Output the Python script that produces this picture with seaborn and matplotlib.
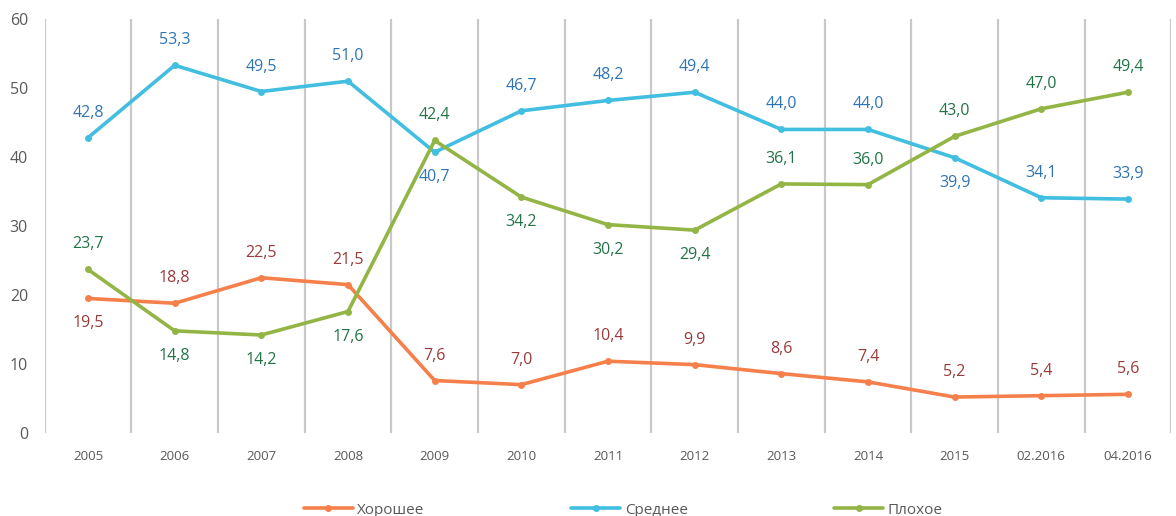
import pandas as pd
import numpy as np
import seaborn as sns
import matplotlib.pyplot as plt

periods = ['2005', '2006', '2007', '2008', '2009', '2010', '2011', '2012',
           '2013', '2014', '2015', '02.2016', '04.2016']
good = [19.5, 18.8, 22.5, 21.5, 7.6, 7.0, 10.4, 9.9, 8.6, 7.4, 5.2, 5.4, 5.6]
medium = [42.8, 53.3, 49.5, 51.0, 40.7, 46.7, 48.2, 49.4, 44.0, 44.0, 39.9, 34.1, 33.9]
bad = [23.7, 14.8, 14.2, 17.6, 42.4, 34.2, 30.2, 29.4, 36.1, 36.0, 43.0, 47.0, 49.4]
series_names = ['Хорошее', 'Среднее', 'Плохое']

# label placement: 1 = above the point, -1 = below
good_pos = [-1, 1, 1, 1, 1, 1, 1, 1, 1, 1, 1, 1, 1]
medium_pos = [1, 1, 1, 1, -1, 1, 1, 1, 1, 1, -1, 1, 1]
bad_pos = [1, -1, -1, -1, 1, -1, -1, -1, 1, 1, 1, 1, 1]

line_colors = ['#F5804B', '#41BEE0', '#93B545']
label_colors = ['#9A3A3A', '#2F75B5', '#227447']

df = pd.DataFrame({
    'x': list(range(len(periods))) * 3,
    'value': good + medium + bad,
    'series': np.repeat(series_names, len(periods)),
})

sns.set_style('white')
plt.rcParams['font.family'] = ['Open Sans', 'DejaVu Sans']

fig = plt.figure(figsize=(11.76, 5.16), dpi=100)
ax = fig.add_axes([0.038, 0.161, 0.958, 0.802])

for k in range(len(periods) + 1):
    ax.axvline(k - 0.5, color='#C9C9C9', lw=1.6, zorder=0)

sns.lineplot(data=df, x='x', y='value', hue='series', hue_order=series_names,
             palette=line_colors, marker='o', markersize=5, markeredgewidth=0,
             linewidth=2.6, ax=ax, legend=False)

for vals, pos, col in zip([good, medium, bad], [good_pos, medium_pos, bad_pos], label_colors):
    for i, (v, p) in enumerate(zip(vals, pos)):
        ax.annotate(f'{v:.1f}'.replace('.', ','), (i, v), xytext=(0, 18 * p),
                    textcoords='offset points', ha='center', va='center',
                    color=col, fontsize=11.5)

ax.set_xlim(-0.5, len(periods) - 0.5)
ax.set_ylim(0, 60)
ax.set_yticks(range(0, 61, 10))
ax.set_xticks(range(len(periods)))
ax.set_xticklabels(periods)
ax.tick_params(axis='x', labelsize=9.5, colors='#595959', length=0, pad=12)
ax.tick_params(axis='y', labelsize=11.5, colors='#595959', length=0, pad=12)
ax.set_xlabel('')
ax.set_ylabel('')
for s in ax.spines.values():
    s.set_visible(False)

handles = [plt.Line2D([], [], color=c, lw=2.6, marker='o', markersize=4) for c in line_colors]
fig.legend(handles, series_names, loc='lower center', bbox_to_anchor=(0.53, -0.03),
           ncol=3, frameon=False, fontsize=11, columnspacing=9.6, handlelength=3.2,
           handletextpad=0.3, labelcolor='#595959')

fig.savefig('out.png', dpi=100)
